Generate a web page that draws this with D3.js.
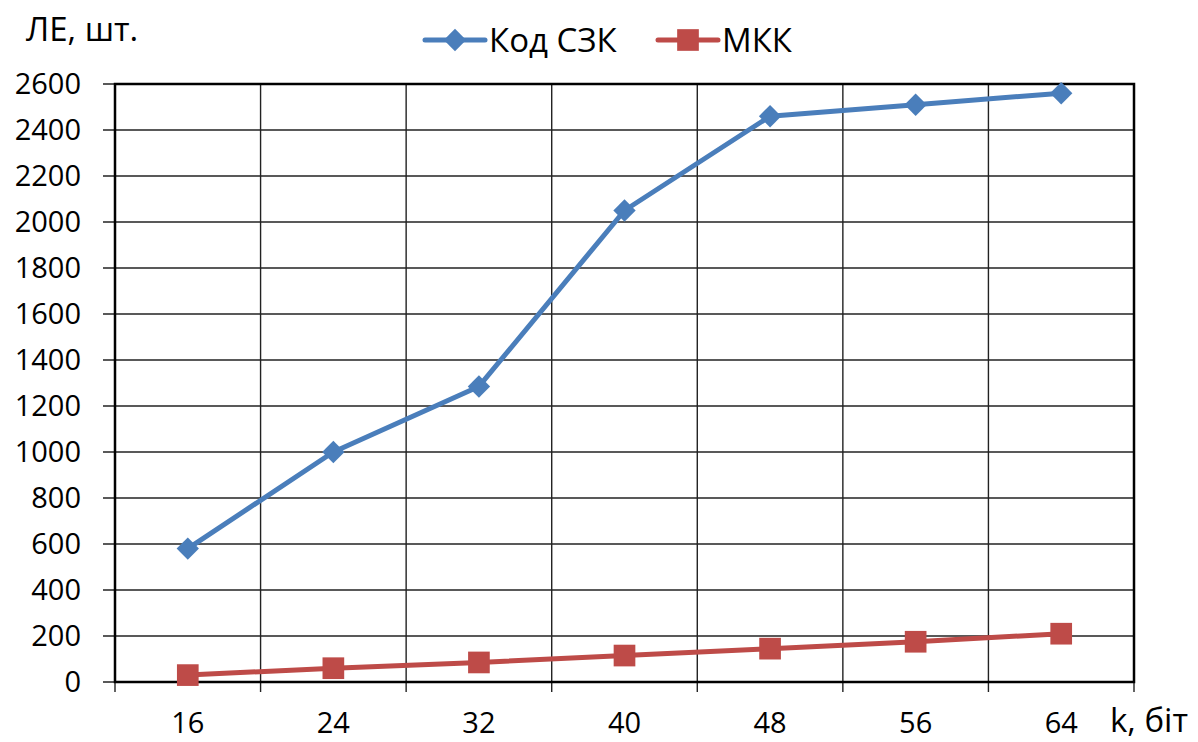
<!DOCTYPE html>
<meta charset="utf-8">
<title>ЛЕ vs k</title>
<style>
  body { margin: 0; background: #fff; }
  text { font-family: "Open Sans", sans-serif; fill: #000; }
</style>
<body>
<script src="https://cdn.jsdelivr.net/npm/d3@7"></script>
<script>

var width = 1198,
    height = 742;

var categories = ["16", "24", "32", "40", "48", "56", "64"];
var szkValues = [580, 1000, 1285, 2050, 2460, 2510, 2560];   // Код СЗК
var mkkValues = [30, 60, 85, 115, 145, 175, 210];            // МКК
var yTicks = d3.range(0, 2601, 200);

var margin = {top: 84, right: 64, bottom: 60, left: 115};

var x = d3.scaleBand()
    .domain(categories)
    .range([margin.left, width - margin.right]);

var y = d3.scaleLinear()
    .domain([0, 2600])
    .range([height - margin.bottom, margin.top]);

var svg = d3.select("body").append("svg")
    .attr("width", width)
    .attr("height", height);

// horizontal grid
svg.append("g")
  .selectAll("line")
  .data(yTicks)
  .enter().append("line")
    .attr("x1", margin.left - 12)
    .attr("x2", width - margin.right)
    .attr("y1", function(d) { return y(d); })
    .attr("y2", function(d) { return y(d); })
    .attr("stroke", "#222")
    .attr("stroke-width", 1.4);

// vertical grid (category boundaries)
var bounds = categories.map(function(c) { return x(c); }).concat([x.range()[1]]);
svg.append("g")
  .selectAll("line")
  .data(bounds)
  .enter().append("line")
    .attr("x1", function(d) { return d; })
    .attr("x2", function(d) { return d; })
    .attr("y1", margin.top)
    .attr("y2", height - margin.bottom + 10)
    .attr("stroke", "#222")
    .attr("stroke-width", 1.4);

// plot border / axes
svg.append("rect")
    .attr("x", margin.left)
    .attr("y", margin.top)
    .attr("width", x.range()[1] - margin.left)
    .attr("height", y(0) - margin.top)
    .attr("fill", "none")
    .attr("stroke", "#000")
    .attr("stroke-width", 2.5);

// y labels
svg.append("g")
  .selectAll("text")
  .data(yTicks)
  .enter().append("text")
    .attr("x", 81)
    .attr("y", function(d) { return y(d); })
    .attr("dy", "0.36em")
    .attr("text-anchor", "end")
    .style("font-size", "29px")
    .text(function(d) { return d; });

// x labels
svg.append("g")
  .selectAll("text")
  .data(categories)
  .enter().append("text")
    .attr("x", function(d) { return x(d) + x.bandwidth() / 2; })
    .attr("y", 733)
    .attr("text-anchor", "middle")
    .style("font-size", "29px")
    .text(function(d) { return d; });

svg.append("text")
    .attr("x", 1110)
    .attr("y", 732)
    .style("font-size", "33px")
    .text("k, біт");

svg.append("text")
    .attr("x", 26)
    .attr("y", 41)
    .style("font-size", "33px")
    .text("ЛЕ, шт.");

var series = [
  {name: "Код СЗК", values: szkValues, color: "#4a7ebb", symbol: d3.symbolSquare, size: 250, rotate: 45},
  {name: "МКК", values: mkkValues, color: "#be4b48", symbol: d3.symbolSquare, size: 470, rotate: 0}
];

var line = d3.line()
    .x(function(d, i) { return x(categories[i]) + x.bandwidth() / 2; })
    .y(function(d) { return y(d); });

series.forEach(function(s) {
  svg.append("path")
      .datum(s.values)
      .attr("d", line)
      .attr("fill", "none")
      .attr("stroke", s.color)
      .attr("stroke-width", 5)
      .attr("stroke-linejoin", "round");

  svg.append("g")
    .selectAll("path")
    .data(s.values)
    .enter().append("path")
      .attr("transform", function(d, i) {
        return "translate(" + (x(categories[i]) + x.bandwidth() / 2) + "," + y(d) + ") rotate(" + s.rotate + ")";
      })
      .attr("d", d3.symbol().type(s.symbol).size(s.size))
      .attr("fill", s.color);
});

// legend
var legendX = [425, 658];
series.forEach(function(s, i) {
  var g = svg.append("g").attr("transform", "translate(" + legendX[i] + ",40)");
  g.append("line")
      .attr("x1", 0).attr("x2", 60)
      .attr("stroke", s.color)
      .attr("stroke-width", 5)
      .attr("stroke-linecap", "round");
  g.append("path")
      .attr("transform", "translate(30,0) rotate(" + s.rotate + ")")
      .attr("d", d3.symbol().type(s.symbol).size(s.size))
      .attr("fill", s.color);
  g.append("text")
      .attr("x", 64)
      .attr("dy", "0.36em")
      .style("font-size", "33px")
      .text(s.name);
});

</script>
</body>
